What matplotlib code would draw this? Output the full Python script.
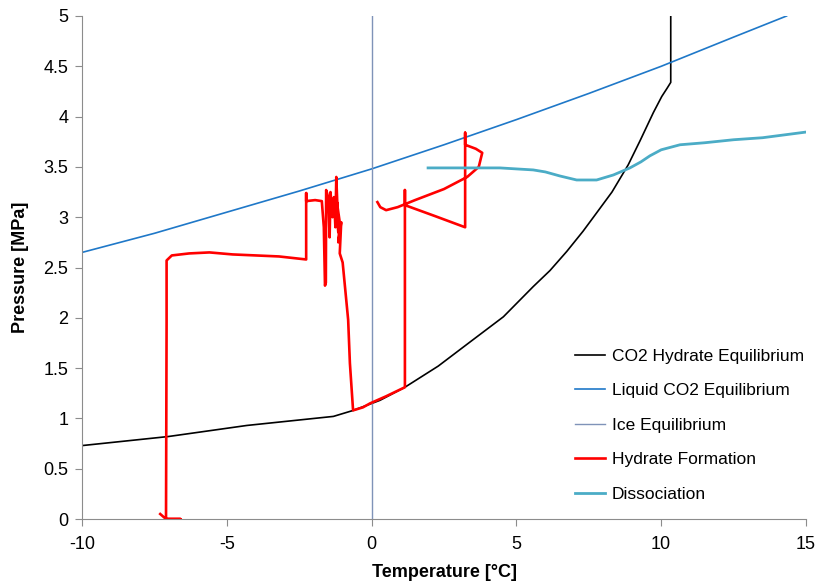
import numpy as np
import matplotlib.pyplot as plt

plt.rcParams['font.family'] = ['Liberation Sans', 'DejaVu Sans']
plt.rcParams['axes.unicode_minus'] = False

# CO2 hydrate equilibrium curve
hyd_T = [-10, -7.02, -4.31, -1.32, -0.63, 0.29, 1.15, 2.3, 3.4, 4.55, 5.58, 6.16, 6.74, 7.3, 7.66,
         8.3, 8.86, 9.27, 9.73, 10.02, 10.2, 10.33, 10.33]
hyd_P = [0.73, 0.82, 0.93, 1.02, 1.08, 1.18, 1.31, 1.52, 1.76, 2.01, 2.31, 2.47, 2.66, 2.86, 3.0,
         3.25, 3.52, 3.76, 4.04, 4.2, 4.28, 4.34, 5.0]

# liquid CO2 (vapour pressure) curve
liq_T = [-10, -7.5, -5, -2.5, 0, 2.5, 5, 7.5, 10, 12.5, 14.33]
liq_P = [2.65, 2.84, 3.05, 3.26, 3.48, 3.72, 3.97, 4.23, 4.50, 4.79, 5.0]

# ice line
ice_T = [0, 0]
ice_P = [0, 5]

# hydrate formation run
form_T = [-7.3, -7.1, -6.6, -7.1, -7.08, -7.08, -7.08, -6.9, -6.3, -5.6, -4.8, -4.0, -3.2, -2.26,
          -2.26, -2.26, -1.95, -1.72, -1.65, -1.61, -1.58, -1.57, -1.5, -1.45, -1.42, -1.35, -1.3,
          -1.25, -1.22, -1.18, -1.15, -1.2, -1.1, -1.15, -1.05, -1.1, -1.0, -0.92, -0.81, -0.75,
          -0.64, -0.3, -0.05, 0.5, 1.15, 1.15, 1.15, 1.15, 2.2, 3.23, 3.23, 3.23, 3.6, 3.82, 3.7,
          3.3, 2.5, 1.5, 0.9, 0.5, 0.3, 0.2]
form_P = [0.05, 0.0, 0.0, 0.0, 1.95, 2.55, 2.57, 2.62, 2.64, 2.65, 2.63, 2.62, 2.61, 2.58,
          3.24, 3.16, 3.17, 3.16, 2.9, 2.32, 2.35, 3.27, 3.2, 2.8, 3.25, 3.0, 3.2,
          2.9, 3.4, 3.1, 2.85, 3.15, 2.95, 2.75, 2.95, 2.64, 2.55, 2.31, 1.98, 1.55,
          1.08, 1.11, 1.15, 1.22, 1.31, 2.5, 3.27, 3.12, 3.01, 2.9, 3.84, 3.72, 3.68, 3.64, 3.5,
          3.4, 3.28, 3.17, 3.1, 3.07, 3.1, 3.15]

# dissociation run
dis_T = [1.95, 3.0, 4.43, 5.0, 5.58, 6.0, 6.5, 7.08, 7.77, 8.35, 8.92, 9.3, 9.61, 10.0, 10.65,
         11.5, 12.5, 13.5, 14.3, 15.1]
dis_P = [3.49, 3.49, 3.49, 3.48, 3.47, 3.45, 3.41, 3.37, 3.37, 3.42, 3.49, 3.55, 3.61, 3.67, 3.72,
         3.74, 3.77, 3.79, 3.82, 3.85]

fig = plt.figure(figsize=(8.22, 5.88), dpi=100)
ax = fig.add_axes([0.0998, 0.1173, 0.8807, 0.8555])

ax.plot(hyd_T, hyd_P, color='black', lw=1.2, label='CO2 Hydrate Equilibrium')
ax.plot(liq_T, liq_P, color='#1f78c8', lw=1.2, label='Liquid CO2 Equilibrium')
ax.plot(ice_T, ice_P, color='#7f93b8', lw=1.0, label='Ice Equilibrium')
ax.plot(form_T, form_P, color='#ff0000', lw=1.9, solid_joinstyle='round', label='Hydrate Formation')
ax.plot(dis_T, dis_P, color='#4bacc6', lw=2.0, solid_joinstyle='round', label='Dissociation')

ax.set_xlim(-10, 15)
ax.set_ylim(0, 5)
ax.set_xticks([-10, -5, 0, 5, 10, 15])
ax.set_yticks([0, 0.5, 1, 1.5, 2, 2.5, 3, 3.5, 4, 4.5, 5])
ax.set_yticklabels(['0', '0.5', '1', '1.5', '2', '2.5', '3', '3.5', '4', '4.5', '5'])

for s in ['top', 'right']:
    ax.spines[s].set_visible(False)
for s in ['left', 'bottom']:
    ax.spines[s].set_color('#8c8c8c')
    ax.spines[s].set_linewidth(0.8)
ax.tick_params(direction='out', length=5, width=0.8, color='#8c8c8c', labelsize=13, pad=5)
ax.tick_params(axis='x', pad=7)

ax.set_xlabel('Temperature [°C]', fontsize=13, fontweight='bold', labelpad=8)
ax.set_ylabel('Pressure [MPa]', fontsize=13, fontweight='bold', labelpad=10)

ax.legend(loc='upper left', bbox_to_anchor=(0.659, 0.37), frameon=False, fontsize=12.5,
          handlelength=1.75, handletextpad=0.4, labelspacing=1.12)

plt.savefig('out.png', dpi=100)
